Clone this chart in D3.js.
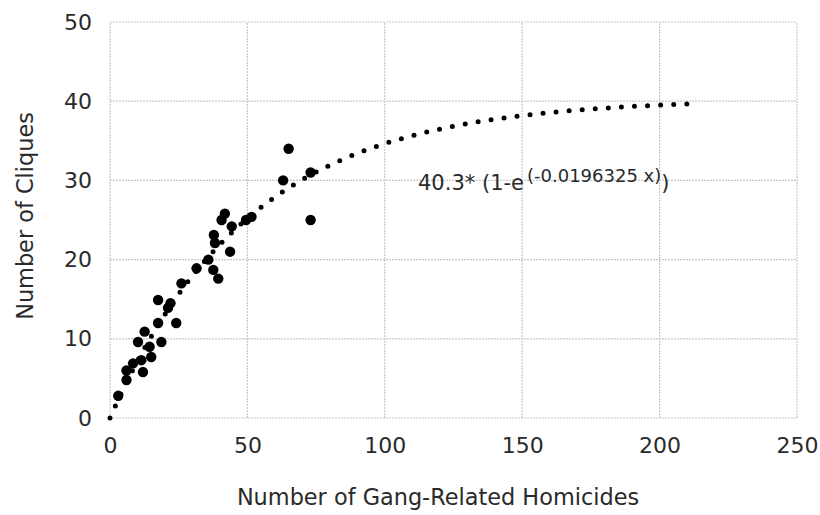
<!DOCTYPE html>
<html><head><meta charset="utf-8">
<script src="https://cdn.jsdelivr.net/npm/d3@7"></script>
<style>body{margin:0;background:#fff}svg{display:block}</style>
</head><body>
<svg id="c" width="820" height="515"></svg>
<script>
const homicides = [3, 6, 6, 8.4, 11.4, 12, 10.2, 12.6, 14.4, 18.7, 15, 17.5, 24.1, 21.1, 17.5, 22, 26, 31.5, 35.8, 37.6, 39.4, 37.8, 38.2, 43.7, 40.6, 41.8, 44.3, 49.5, 51.5, 63, 65, 73, 73];
const cliques   = [2.8, 4.8, 6, 6.9, 7.3, 5.8, 9.6, 10.9, 9, 9.6, 7.7, 12, 12, 13.9, 14.9, 14.5, 17, 18.9, 20, 18.7, 17.6, 23.1, 22.1, 21, 25, 25.8, 24.2, 25, 25.4, 30, 34, 31, 25];
const xTicks = [0, 50, 100, 150, 200, 250];
const yTicks = [0, 10, 20, 30, 40, 50];
const fitA = 40.3, fitB = 0.0196325, fitMaxX = 213.5;

const svg = d3.select("#c");
const font = "'DejaVu Sans', sans-serif";
const x = d3.scaleLinear().domain([0, 250]).range([110, 797]);
const y = d3.scaleLinear().domain([0, 50]).range([418, 22]);

const grid = svg.append("g");
grid.selectAll(".v").data(xTicks).join("line")
  .attr("x1", d => x(d)).attr("x2", d => x(d)).attr("y1", y(0)).attr("y2", y(50))
  .attr("stroke", "#c8c8c8").attr("stroke-width", 1.2).attr("stroke-dasharray", "2,1");
grid.selectAll(".h").data(yTicks).join("line")
  .attr("y1", d => y(d)).attr("y2", d => y(d)).attr("x1", x(0)).attr("x2", x(250))
  .attr("stroke", "#c8c8c8").attr("stroke-width", 1.2).attr("stroke-dasharray", "2,1");

const xAxis = svg.append("g").attr("transform", `translate(0,${y(0)})`)
  .call(d3.axisBottom(x).tickValues(xTicks).tickSize(0).tickPadding(19));
xAxis.select(".domain").remove();
xAxis.selectAll("text").attr("font-family", font).attr("font-size", 22).attr("fill", "#2a2a2a");

const yAxis = svg.append("g").attr("transform", `translate(${x(0)},0)`)
  .call(d3.axisLeft(y).tickValues(yTicks).tickSize(0).tickPadding(18));
yAxis.select(".domain").remove();
yAxis.selectAll("text").attr("font-family", font).attr("font-size", 22).attr("fill", "#2a2a2a");

// fitted curve (dotted)
const fitXs = d3.range(0, fitMaxX + 0.01, 0.5);
const line = d3.line().x(d => x(d)).y(d => y(fitA * (1 - Math.exp(-fitB * d))));
svg.append("path").datum(fitXs).attr("d", line)
  .attr("fill", "none").attr("stroke", "#000").attr("stroke-width", 5)
  .attr("stroke-linecap", "round").attr("stroke-dasharray", "0,13.1");

svg.append("g").selectAll("circle").data(homicides.map((h, i) => [h, cliques[i]])).join("circle")
  .attr("cx", d => x(d[0])).attr("cy", d => y(d[1])).attr("r", 5.2).attr("fill", "#000");

// equation label
const eq = svg.append("text").attr("x", 418).attr("y", 190).attr("font-family", font)
  .attr("font-size", 21).attr("fill", "#2a2a2a");
eq.append("tspan").text("40.3* (1-e");
eq.append("tspan").attr("font-size", 18).attr("dy", -8).attr("dx", 3).text("(-0.0196325 x)");
eq.append("tspan").attr("dy", 8).text(")");

svg.append("text").attr("x", 438).attr("y", 505).attr("text-anchor", "middle")
  .attr("font-family", font).attr("font-size", 22.4).attr("fill", "#2a2a2a")
  .text("Number of Gang-Related Homicides");
svg.append("text").attr("transform", "translate(33,216) rotate(-90)").attr("text-anchor", "middle")
  .attr("font-family", font).attr("font-size", 22.4).attr("fill", "#2a2a2a")
  .text("Number of Cliques");
</script>
</body></html>
